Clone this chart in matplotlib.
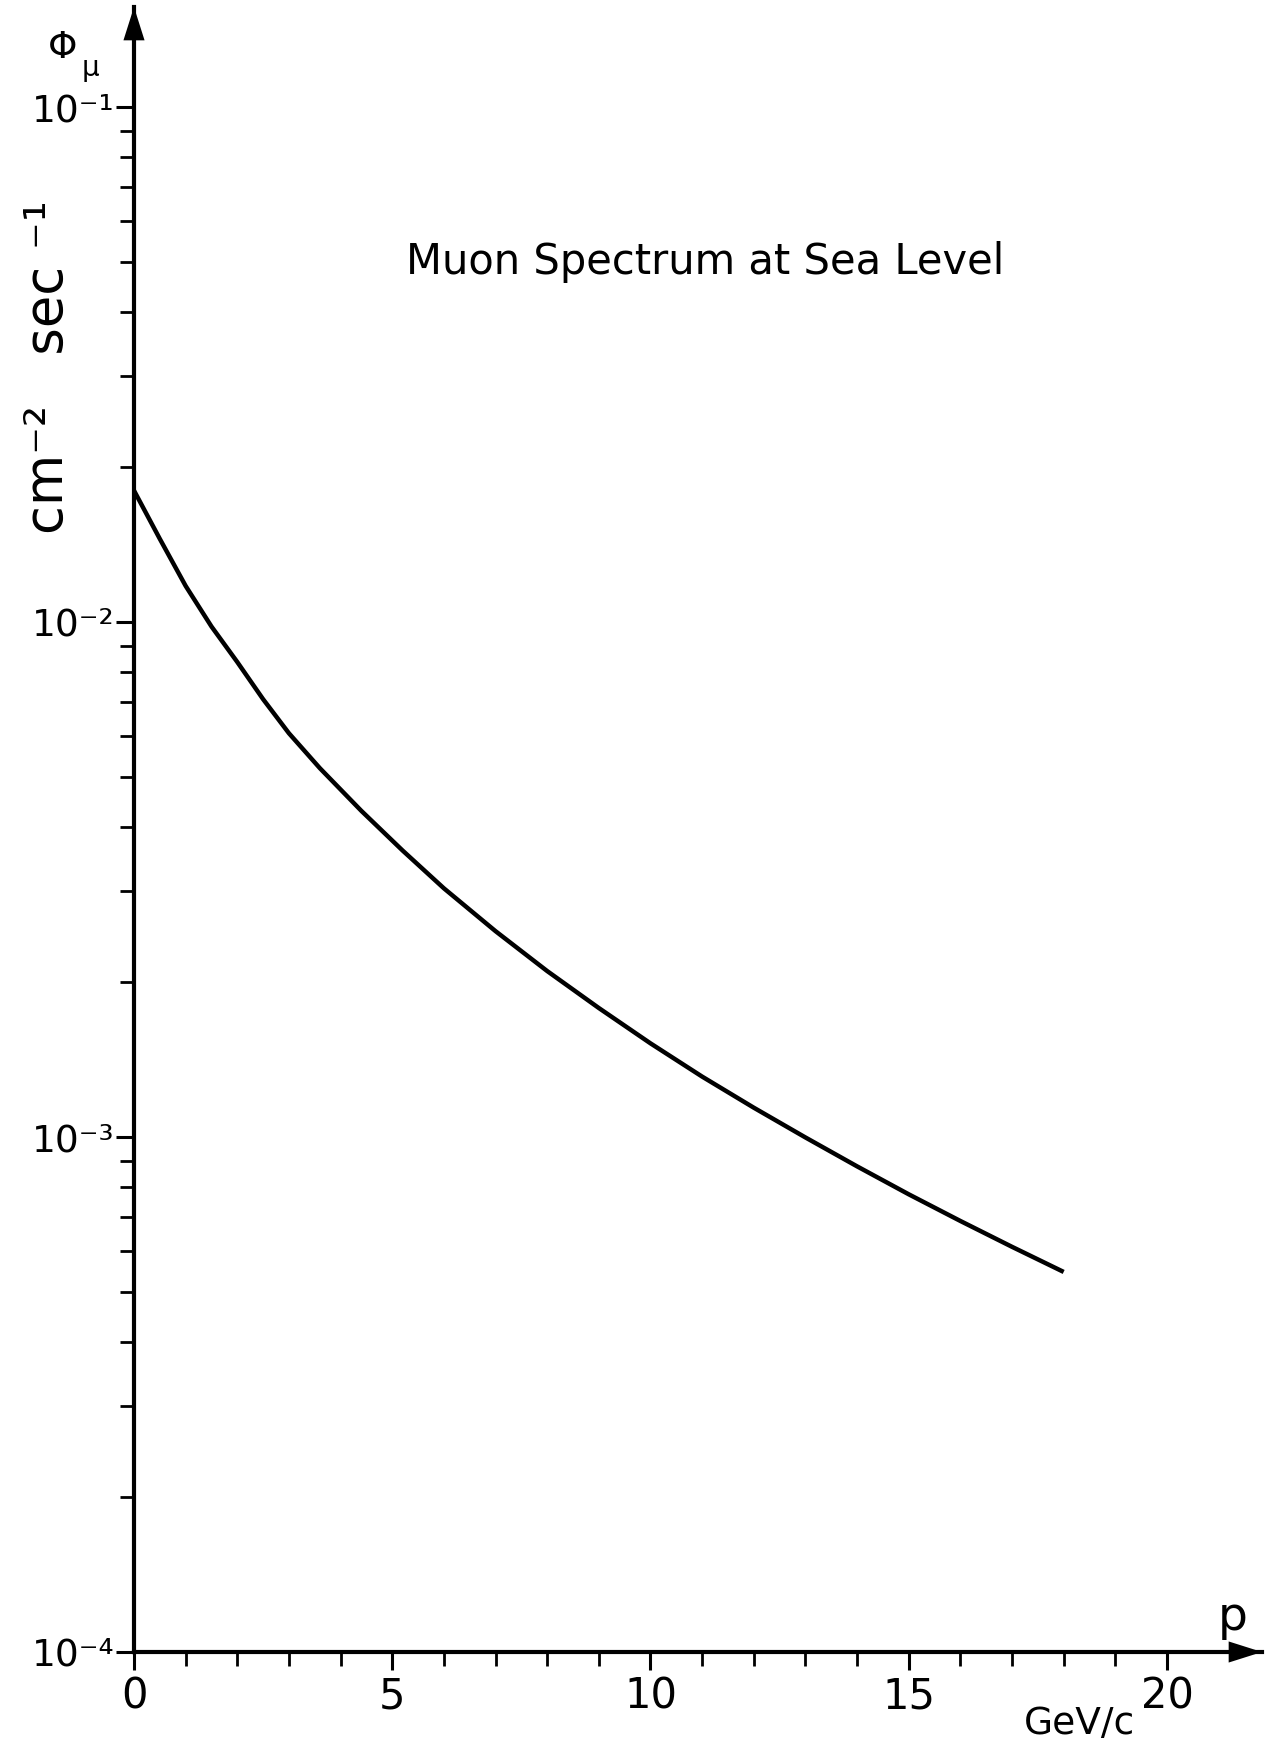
import matplotlib
matplotlib.use("Agg")
import matplotlib.pyplot as plt
from matplotlib.ticker import FixedLocator, NullFormatter

plt.rcParams['font.family'] = ['DejaVu Sans']

# muon momentum (GeV/c) and flux (cm^-2 s^-1)
momentum = [0, 0.5, 1, 1.5, 2, 2.5, 3, 3.6, 4.4, 5.2, 6, 7, 8, 9, 10, 11,
            12, 13, 14, 15, 16, 17, 18]
flux = [0.0180, 0.0145, 0.01175, 0.0098, 0.00836, 0.00708, 0.00608,
        0.00520, 0.00430, 0.00360, 0.00304, 0.00251, 0.00210, 0.00178,
        0.00152, 0.00131, 0.00114, 0.000998, 0.000877, 0.000774, 0.000687,
        0.000612, 0.000547]

x_major = [0, 5, 10, 15, 20]
x_minor = [i for i in range(0, 21) if i % 5 != 0]
y_major = [1e-4, 1e-3, 1e-2, 1e-1]
y_labels = ['10⁻⁴', '10⁻³', '10⁻²', '10⁻¹']

W, H = 1265, 1750
fig = plt.figure(figsize=(W / 100, H / 100), dpi=100)
ax = fig.add_axes([134 / W, 98 / H, 1128 / W, 1645 / H])

ax.plot(momentum, flux, color='k', lw=3.2, solid_capstyle='butt',
        solid_joinstyle='round')

ax.set_yscale('log')
ax.set_xlim(0, 21.84)
ax.set_ylim(1e-4, 10 ** (-4 + 1645 / 515))

ax.spines['top'].set_visible(False)
ax.spines['right'].set_visible(False)
for s in ['left', 'bottom']:
    ax.spines[s].set_linewidth(3.0)

ax.xaxis.set_major_locator(FixedLocator(x_major))
ax.xaxis.set_minor_locator(FixedLocator(x_minor))
ax.set_xticklabels([str(v) for v in x_major])
minor_y = [m * 10.0 ** e for e in (-4, -3, -2) for m in range(2, 10)]
ax.yaxis.set_major_locator(FixedLocator(y_major))
ax.yaxis.set_minor_locator(FixedLocator(minor_y))
ax.yaxis.set_minor_formatter(NullFormatter())
ax.set_yticklabels(y_labels)

ax.tick_params(which='major', direction='out', length=13, width=2.2)
ax.tick_params(axis='x', which='major', labelsize=30, pad=4)
ax.tick_params(axis='y', which='major', labelsize=27, pad=1)
ax.tick_params(which='minor', direction='out', length=10, width=2.0)

# arrow heads on the axes
arrow = dict(arrowstyle='-|>,head_length=1.2,head_width=0.38', color='k', lw=0,
             mutation_scale=20, shrinkA=0, shrinkB=0)
ax.annotate('', xy=(1, 0), xytext=(0.96, 0), xycoords='axes fraction', arrowprops=arrow)
ax.annotate('', xy=(0, 1), xytext=(0, 0.97), xycoords='axes fraction', arrowprops=arrow)

fig.text(705 / W, 1 - 262 / H, 'Muon Spectrum at Sea Level', fontsize=30, ha='center', va='center')
fig.text(63 / W, 1 - 48 / H, 'Φ', fontsize=27, ha='center', va='center')
fig.text(90 / W, 1 - 68 / H, 'μ', fontsize=20, ha='center', va='center')
fig.text(48 / W, 1 - 534 / H, 'cm⁻²   sec ⁻¹', fontsize=38, rotation=90, ha='center', va='bottom')
fig.text(1233 / W, 1 - 1618 / H, 'p', fontsize=34, ha='center', va='center')
fig.text(1080 / W, 1 - 1724 / H, 'GeV/c', fontsize=27, ha='center', va='center')

fig.savefig('out.png', dpi=100)
